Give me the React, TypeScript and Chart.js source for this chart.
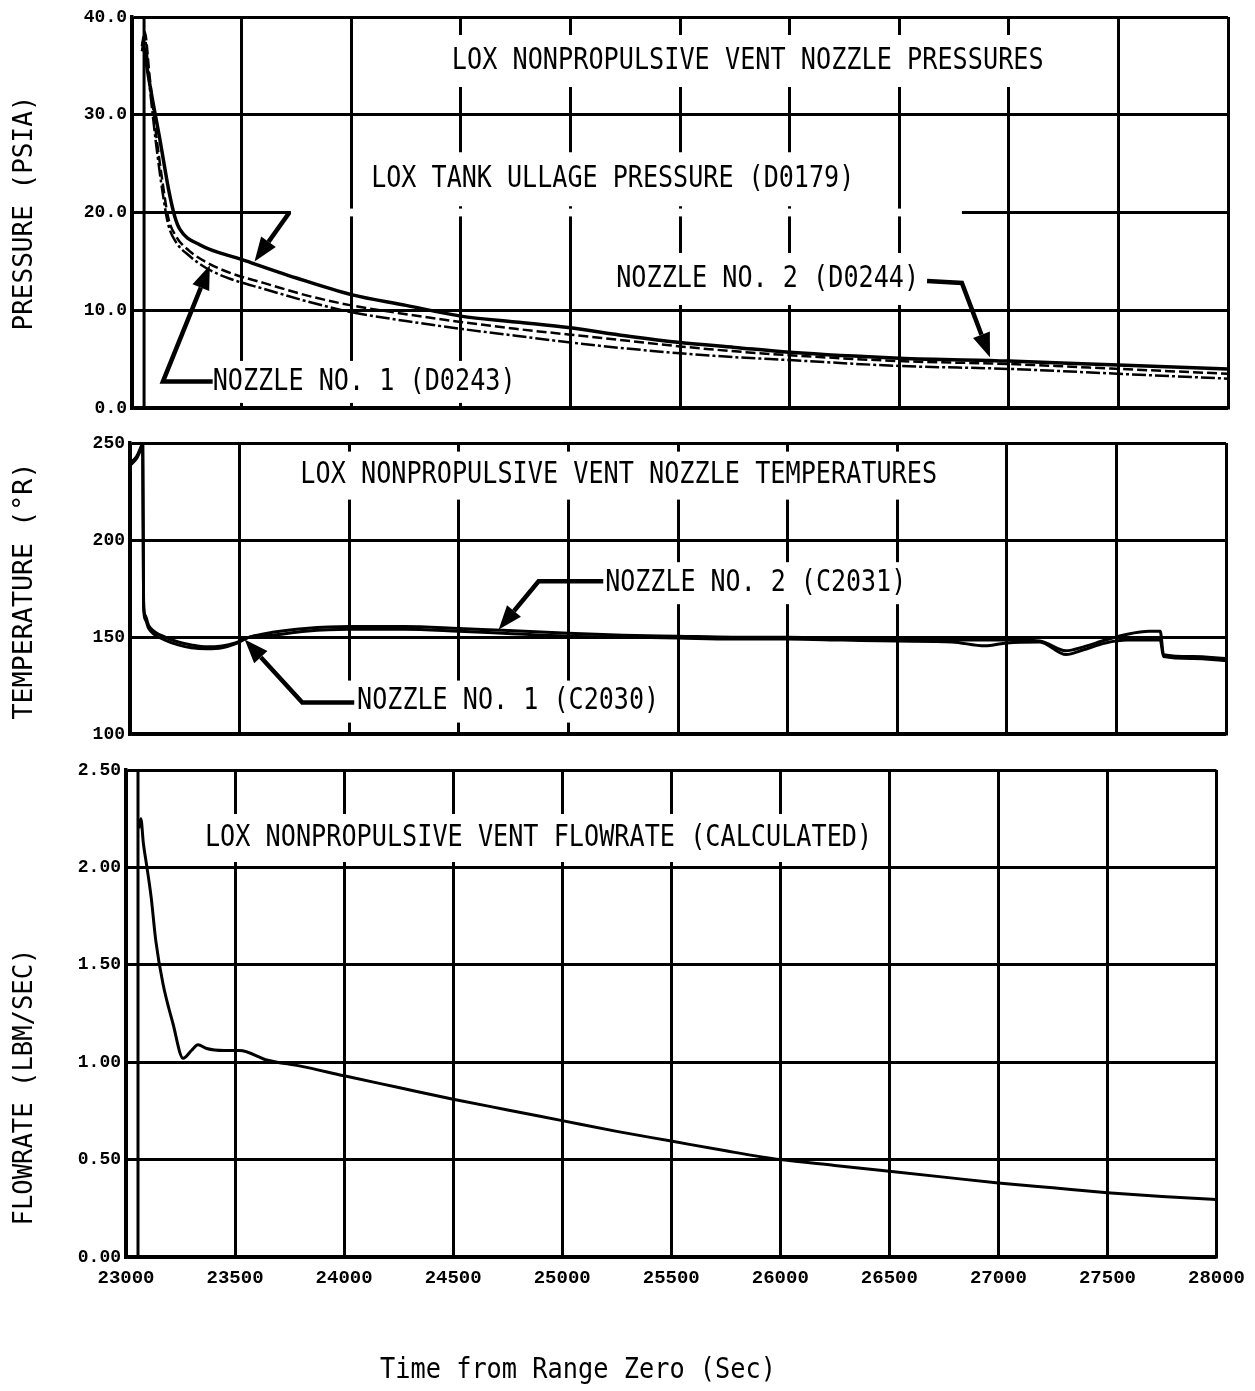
import React, { useEffect, useRef } from "react";
import { Chart, registerables } from "chart.js";
Chart.register(...registerables);

// ---------------- data ----------------
const X_MIN = 23000;
const X_MAX = 28000;
const X_STEP = 500;
const EVENT_TIME = 23055;

// Pressure panel (psia)
const ULLAGE_T = [23050, 23082, 23127, 23170, 23195, 23218, 23309, 23500, 23750, 24000, 24250, 24500, 24750, 25000, 25250, 25500, 25750, 26000, 26500, 27000, 27500, 28000];
const ULLAGE_P = [37.5, 33.0, 27.5, 22.0, 19.6, 18.3, 16.7, 15.2, 13.3, 11.6, 10.5, 9.4, 8.8, 8.2, 7.4, 6.7, 6.2, 5.7, 5.1, 4.8, 4.4, 4.0];
const NOZZLE_P_T = [23045, 23058, 23080, 23110, 23140, 23165, 23200, 23260, 23340, 23450, 23600, 23800, 24000, 24250, 24500, 24750, 25000, 25250, 25500, 25750, 26000, 26500, 27000, 27500, 28000];
const NOZZLE1_P = [36.5, 37.8, 33.0, 27.0, 22.0, 18.8, 17.0, 15.6, 14.3, 13.2, 12.2, 10.9, 9.8, 8.9, 8.1, 7.4, 6.7, 6.1, 5.6, 5.2, 4.9, 4.3, 4.0, 3.5, 3.0];
const NOZZLE2_P = [37.0, 38.5, 34.0, 28.0, 23.0, 19.5, 17.6, 16.1, 14.9, 13.8, 12.8, 11.5, 10.5, 9.6, 8.8, 8.1, 7.5, 6.9, 6.3, 5.8, 5.4, 4.8, 4.5, 4.0, 3.5];

// Temperature panel (deg R)
const TEMP_T = [23005, 23030, 23050, 23058, 23062, 23070, 23085, 23110, 23160, 23220, 23280, 23350, 23420, 23480, 23545, 23650, 23800, 24000, 24250, 24500, 24700, 25000, 25250, 25500, 25750, 26000, 26250, 26500, 26750, 26900, 27000, 27150, 27270, 27350, 27450, 27550, 27650, 27700, 27715, 27850, 28000];
const NOZZLE2_TEMP = [240, 243, 248, 250, 168, 161, 156, 153, 150, 147.5, 146, 145, 145.5, 147, 150, 152.5, 154.5, 155.5, 155.5, 154.5, 153.5, 152, 151, 150.5, 150, 150, 149.5, 149, 148.5, 148.5, 148.5, 148, 143, 145, 148.5, 151.5, 153, 153, 141, 140, 139];
const NOZZLE1_TEMP = [239, 242, 247, 249.5, 165, 159, 154.5, 151.5, 148.5, 146, 144.5, 144, 144.5, 146.5, 150, 151, 153, 154, 154, 153, 152, 150.5, 150, 149.5, 149, 149, 148.5, 148, 147.5, 145.5, 147, 147.5, 141, 143.5, 147, 148.5, 148.5, 148.5, 140, 139, 138];

// Flowrate panel (lbm/sec)
const FLOW_T = [23058, 23068, 23080, 23092, 23115, 23137, 23170, 23215, 23262, 23300, 23330, 23370, 23450, 23520, 23650, 23800, 24000, 24250, 24500, 24750, 25000, 25250, 25500, 25750, 26000, 26250, 26500, 26750, 27000, 27250, 27500, 27750, 28000];
const FLOW_V = [2.20, 2.25, 2.12, 2.03, 1.85, 1.62, 1.40, 1.20, 1.02, 1.06, 1.09, 1.07, 1.06, 1.06, 1.01, 0.98, 0.93, 0.87, 0.81, 0.755, 0.70, 0.645, 0.595, 0.545, 0.50, 0.47, 0.44, 0.41, 0.38, 0.355, 0.33, 0.31, 0.295];

// Axis ranges
const P_TICKS = [0, 40, 10];
const T_TICKS = [100, 250, 50];
const F_TICKS = [0, 2.5, 0.5];

// ---------------- styling helpers ----------------
const FONT_TEXT = '"DejaVu Sans Mono", monospace';
const FONT_TICK = '"Liberation Mono", "DejaVu Sans Mono", monospace';

type Label = { text: string; x0: number; x1: number; y: number; pad?: number };
type Arrow = { pts: [number, number][] };
type Gap = { x0: number; x1: number; y0: number; y1: number };

function fitText(ctx: CanvasRenderingContext2D, text: string, cx: number, cy: number, len: number, size: number, rotate = false) {
  ctx.save();
  ctx.font = `${size}px ${FONT_TEXT}`;
  const w = ctx.measureText(text).width;
  ctx.translate(cx, cy);
  if (rotate) ctx.rotate(-Math.PI / 2);
  ctx.scale(len / w, 1);
  ctx.textAlign = "center";
  ctx.textBaseline = "middle";
  ctx.fillStyle = "#000";
  ctx.fillText(text, 0, 0);
  ctx.restore();
}

function drawArrow(ctx: CanvasRenderingContext2D, pts: [number, number][]) {
  const headLen = 24;
  const hw = 9;
  const n = pts.length;
  const [xe, ye] = pts[n - 1];
  const [xp, yp] = pts[n - 2];
  const ang = Math.atan2(ye - yp, xe - xp);
  const bx = xe - headLen * Math.cos(ang);
  const by = ye - headLen * Math.sin(ang);
  ctx.save();
  ctx.strokeStyle = "#000";
  ctx.fillStyle = "#000";
  ctx.lineWidth = 4.5;
  ctx.lineJoin = "miter";
  ctx.beginPath();
  ctx.moveTo(pts[0][0], pts[0][1]);
  for (let i = 1; i < n - 1; i++) ctx.lineTo(pts[i][0], pts[i][1]);
  ctx.lineTo(bx, by);
  ctx.stroke();
  ctx.beginPath();
  ctx.moveTo(xe, ye);
  ctx.lineTo(bx + hw * Math.sin(ang), by - hw * Math.cos(ang));
  ctx.lineTo(bx - hw * Math.sin(ang), by + hw * Math.cos(ang));
  ctx.closePath();
  ctx.fill();
  ctx.restore();
}

type PanelCfg = {
  height: number;
  left: number;
  right: number;
  top: number;
  bottom: number;
  xAxisHeight: number;
  showXTicks: boolean;
  ticks: number[];
  decimals: number;
  datasets: any[];
  labels: Label[];
  arrows: Arrow[];
  gaps: Gap[];
  yTitle: { text: string; cx: number; cy: number; len: number };
  xTitle?: { text: string; cx: number; cy: number; len: number };
};

function pts(t: number[], v: number[]) {
  return t.map((x, i) => ({ x, y: v[i] }));
}

function makeChart(canvas: HTMLCanvasElement, cfg: PanelCfg) {
  const overlay = {
    id: "overlay",
    beforeDatasetsDraw(chart: any) {
      const { ctx } = chart;
      const xs = chart.scales.x;
      const ys = chart.scales.y;
      ctx.save();
      ctx.fillStyle = "#fff";
      for (const g of cfg.gaps) {
        const x0 = xs.getPixelForValue(g.x0);
        const x1 = xs.getPixelForValue(g.x1);
        const y0 = ys.getPixelForValue(g.y1);
        const y1 = ys.getPixelForValue(g.y0);
        ctx.fillRect(x0, y0, x1 - x0, y1 - y0);
      }
      for (const l of cfg.labels) {
        const x0 = xs.getPixelForValue(l.x0) - 10;
        const x1 = xs.getPixelForValue(l.x1) + 10;
        const yc = ys.getPixelForValue(l.y);
        const p = l.pad ?? 24;
        ctx.fillRect(x0, yc - p, x1 - x0, 2 * p);
      }
      ctx.restore();
    },
    afterDatasetsDraw(chart: any) {
      const { ctx } = chart;
      const xs = chart.scales.x;
      const ys = chart.scales.y;
      for (const a of cfg.arrows) {
        drawArrow(
          ctx,
          a.pts.map(([t, v]) => [xs.getPixelForValue(t), ys.getPixelForValue(v)] as [number, number])
        );
      }
      for (const l of cfg.labels) {
        const x0 = xs.getPixelForValue(l.x0);
        const x1 = xs.getPixelForValue(l.x1);
        const yc = ys.getPixelForValue(l.y);
        fitText(ctx, l.text, (x0 + x1) / 2, yc, x1 - x0, 30);
      }
    },
    afterDraw(chart: any) {
      const { ctx } = chart;
      const yt = cfg.yTitle;
      fitText(ctx, yt.text, yt.cx, yt.cy, yt.len, 27, true);
      if (cfg.xTitle) {
        const xt = cfg.xTitle;
        fitText(ctx, xt.text, xt.cx, xt.cy, xt.len, 29);
      }
    },
  };

  const [yMin, yMax, yStep] = cfg.ticks;
  return new Chart(canvas, {
    type: "line",
    data: { datasets: cfg.datasets },
    options: {
      responsive: false,
      animation: false,
      devicePixelRatio: 1,
      layout: {
        padding: {
          left: 0,
          top: cfg.top,
          right: 1255 - cfg.right,
          bottom: cfg.height - cfg.bottom - cfg.xAxisHeight,
        },
      },
      plugins: { legend: { display: false }, tooltip: { enabled: false } },
      elements: { point: { radius: 0 } },
      scales: {
        x: {
          type: "linear",
          min: X_MIN,
          max: X_MAX,
          afterFit: (s: any) => {
            s.height = cfg.xAxisHeight;
          },
          ticks: {
            display: cfg.showXTicks,
            stepSize: X_STEP,
            autoSkip: false,
            maxRotation: 0,
            padding: 10,
            color: "#000",
            font: { family: FONT_TICK, size: 19, weight: "bold" },
            callback: (v: any) => String(v),
          },
          grid: { color: "#000", lineWidth: 3, drawTicks: false },
          border: { color: "#000", width: 3.5 },
        },
        y: {
          type: "linear",
          min: yMin,
          max: yMax,
          afterFit: (s: any) => {
            s.width = cfg.left;
          },
          ticks: {
            stepSize: yStep,
            padding: 5,
            color: "#000",
            font: { family: FONT_TICK, size: 18, weight: "bold" },
            callback: (v: any) => Number(v).toFixed(cfg.decimals),
          },
          grid: { color: "#000", lineWidth: 3, drawTicks: false },
          border: { color: "#000", width: 3.5 },
        },
      },
    },
    plugins: [overlay],
  } as any);
}

function lineDs(label: string, data: any[], width: number, dash: number[] = []) {
  return {
    label,
    data,
    borderColor: "#000",
    backgroundColor: "#000",
    borderWidth: width,
    borderDash: dash,
    pointRadius: 0,
    fill: false,
    cubicInterpolationMode: "monotone",
  };
}

const pressureCfg: PanelCfg = {
  height: 425,
  left: 132,
  right: 1228,
  top: 17,
  bottom: 408,
  xAxisHeight: 0,
  showXTicks: false,
  ticks: P_TICKS,
  decimals: 1,
  datasets: [
    lineDs("Event", [{ x: EVENT_TIME, y: P_TICKS[0] }, { x: EVENT_TIME, y: P_TICKS[1] }], 3),
    lineDs("NOZZLE NO. 1 (D0243)", pts(NOZZLE_P_T, NOZZLE1_P), 2.5, [14, 3, 3, 3]),
    lineDs("NOZZLE NO. 2 (D0244)", pts(NOZZLE_P_T, NOZZLE2_P), 2.5, [10, 4]),
    lineDs("LOX TANK ULLAGE PRESSURE (D0179)", pts(ULLAGE_T, ULLAGE_P), 3.5),
  ],
  labels: [
    { text: "LOX NONPROPULSIVE VENT NOZZLE PRESSURES", x0: 24459, x1: 27159, y: 35.5, pad: 26 },
    { text: "LOX TANK ULLAGE PRESSURE (D0179)", x0: 24091, x1: 26295, y: 23.4, pad: 27 },
    { text: "NOZZLE NO. 2 (D0244)", x0: 25209, x1: 26591, y: 13.2, pad: 26 },
    { text: "NOZZLE NO. 1 (D0243)", x0: 23368, x1: 24750, y: 2.67, pad: 21 },
  ],
  arrows: [
    { pts: [[23718, 20.0], [23559, 15.0]] },
    { pts: [[23368, 2.7], [23141, 2.7], [23355, 14.6]] },
    { pts: [[26627, 13.0], [26786, 12.8], [26914, 5.2]] },
  ],
  gaps: [{ x0: 23725, x1: 26786, y0: 19.6, y1: 20.4 }],
  yTitle: { text: "PRESSURE (PSIA)", cx: 25, cy: 213, len: 235 },
};

const tempCfg: PanelCfg = {
  height: 325,
  left: 130,
  right: 1226,
  top: 18,
  bottom: 313,
  xAxisHeight: 0,
  showXTicks: false,
  ticks: T_TICKS,
  decimals: 0,
  datasets: [
    lineDs("NOZZLE NO. 1 (C2030)", pts(TEMP_T, NOZZLE1_TEMP), 3),
    lineDs("NOZZLE NO. 2 (C2031)", pts(TEMP_T, NOZZLE2_TEMP), 3),
  ],
  labels: [
    { text: "LOX NONPROPULSIVE VENT NOZZLE TEMPERATURES", x0: 23777, x1: 26682, y: 233.2, pad: 24 },
    { text: "NOZZLE NO. 2 (C2031)", x0: 25168, x1: 26541, y: 177.8, pad: 21 },
    { text: "NOZZLE NO. 1 (C2030)", x0: 24036, x1: 25414, y: 116.8, pad: 21 },
  ],
  arrows: [
    { pts: [[25159, 178.8], [24864, 178.8], [24682, 153.9]] },
    { pts: [[24023, 116.3], [23786, 116.3], [23523, 148.8]] },
  ],
  gaps: [],
  yTitle: { text: "TEMPERATURE (°R)", cx: 25, cy: 166, len: 257 },
};

const flowCfg: PanelCfg = {
  height: 641,
  left: 126,
  right: 1222,
  top: 20,
  bottom: 507,
  xAxisHeight: 134,
  showXTicks: true,
  ticks: F_TICKS,
  decimals: 2,
  datasets: [
    lineDs("Event", [{ x: EVENT_TIME, y: F_TICKS[0] }, { x: EVENT_TIME, y: F_TICKS[1] }], 3),
    lineDs("LOX NONPROPULSIVE VENT FLOWRATE (CALCULATED)", pts(FLOW_T, FLOW_V), 3),
  ],
  labels: [
    { text: "LOX NONPROPULSIVE VENT FLOWRATE (CALCULATED)", x0: 23362, x1: 26421, y: 2.151, pad: 24 },
  ],
  arrows: [],
  gaps: [],
  yTitle: { text: "FLOWRATE (LBM/SEC)", cx: 25, cy: 337, len: 277 },
  xTitle: { text: "Time from Range Zero (Sec)", cx: 578, cy: 620, len: 396 },
};

function Panel({ cfg, top }: { cfg: PanelCfg; top: number }) {
  const ref = useRef<HTMLCanvasElement | null>(null);
  useEffect(() => {
    if (!ref.current) return;
    const chart = makeChart(ref.current, cfg);
    return () => chart.destroy();
  }, [cfg]);
  return (
    <canvas
      ref={ref}
      width={1255}
      height={cfg.height}
      style={{ position: "absolute", left: 0, top, width: 1255, height: cfg.height, display: "block" }}
    />
  );
}

export default function App() {
  return (
    <div style={{ position: "absolute", left: 0, top: 0, width: 1255, height: 1391, background: "#fff", overflow: "hidden" }}>
      <Panel cfg={pressureCfg} top={0} />
      <Panel cfg={tempCfg} top={425} />
      <Panel cfg={flowCfg} top={750} />
    </div>
  );
}
